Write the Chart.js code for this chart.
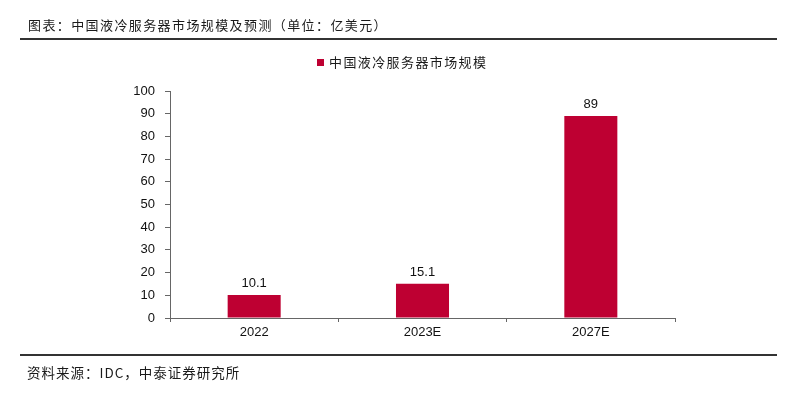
<!DOCTYPE html>
<html>
<head>
<meta charset="utf-8">
<script src="https://cdn.jsdelivr.net/npm/chart.js@4"></script>
<style>
  body { margin: 0; background: #fff; }
  #wrap { position: relative; width: 800px; height: 396px; overflow: hidden; }
  #chart { position: absolute; left: 0; top: 0; }
  .cjk { font-family: "Noto Sans CJK SC", sans-serif; color: #1a1a1a; position: absolute; white-space: nowrap; }
  .rule { position: absolute; left: 20px; width: 757px; height: 2px; background: #333; }
</style>
</head>
<body>
<div id="wrap">
  <canvas id="chart" width="800" height="396"></canvas>
  <div class="cjk" style="left:28px; top:15px; font-size:13px; line-height:20px; letter-spacing:1.4px;">图表：中国液冷服务器市场规模及预测（单位：亿美元）</div>
  <div class="rule" style="top:38px;"></div>
  <div style="position:absolute; left:317px; top:59px; width:7px; height:7px; background:#BE0032;"></div>
  <div class="cjk" style="left:329px; top:52px; font-size:13px; line-height:20px; letter-spacing:1.4px;">中国液冷服务器市场规模</div>
  <div class="rule" style="top:354px;"></div>
  <div class="cjk" style="left:27px; top:362px; font-size:13.5px; line-height:20px; letter-spacing:1px;">资料来源：IDC，中泰证券研究所</div>
</div>
<script>
// chart data
var categories = ['2022', '2023E', '2027E'];
var marketSize = [10.1, 15.1, 89];
var valueLabels = ['10.1', '15.1', '89'];
var yTicks = [0, 10, 20, 30, 40, 50, 60, 70, 80, 90, 100];

var barColor = '#BE0032';

// value labels on top of bars
var barLabels = {
    id: 'barLabels',
    afterDatasetsDraw: function(chart) {
        var ctx = chart.ctx;
        var meta = chart.getDatasetMeta(0);
        ctx.save();
        ctx.font = '13px "Liberation Sans", Arial, sans-serif';
        ctx.fillStyle = '#111';
        ctx.textAlign = 'center';
        ctx.textBaseline = 'bottom';
        meta.data.forEach(function(bar, i) {
            ctx.fillText(valueLabels[i], bar.x, bar.y - 5);
        });
        ctx.restore();
    }
};

var ctx = document.getElementById('chart').getContext('2d');
var chart = new Chart(ctx, {
    type: 'bar',
    data: {
        labels: categories,
        datasets: [{
            label: '中国液冷服务器市场规模',
            data: marketSize,
            backgroundColor: barColor,
            borderWidth: 0,
            categoryPercentage: 1,
            barPercentage: 0.315
        }]
    },
    options: {
        responsive: false,
        animation: false,
        layout: {
            padding: { left: 0, right: 125, top: 91, bottom: 0 }
        },
        scales: {
            x: {
                grid: {
                    drawOnChartArea: false,
                    drawTicks: true,
                    tickLength: 4,
                    color: '#666'
                },
                border: { color: '#666', width: 1 },
                ticks: {
                    color: '#111',
                    padding: 3,
                    font: { family: '"Liberation Sans", Arial, sans-serif', size: 13 }
                },
                afterFit: function(scale) { scale.height = 78; }
            },
            y: {
                min: 0,
                max: 100,
                afterBuildTicks: function(scale) {
                    scale.ticks = yTicks.map(function(v) { return { value: v }; });
                },
                grid: {
                    drawOnChartArea: false,
                    drawTicks: true,
                    tickLength: 5,
                    color: '#666'
                },
                border: { color: '#666', width: 1 },
                ticks: {
                    color: '#111',
                    padding: 10,
                    font: { family: '"Liberation Sans", Arial, sans-serif', size: 13 }
                },
                afterFit: function(scale) { scale.width = 170; }
            }
        },
        plugins: {
            legend: { display: false },
            tooltip: { enabled: false }
        }
    },
    plugins: [barLabels]
});
</script>
</body>
</html>
